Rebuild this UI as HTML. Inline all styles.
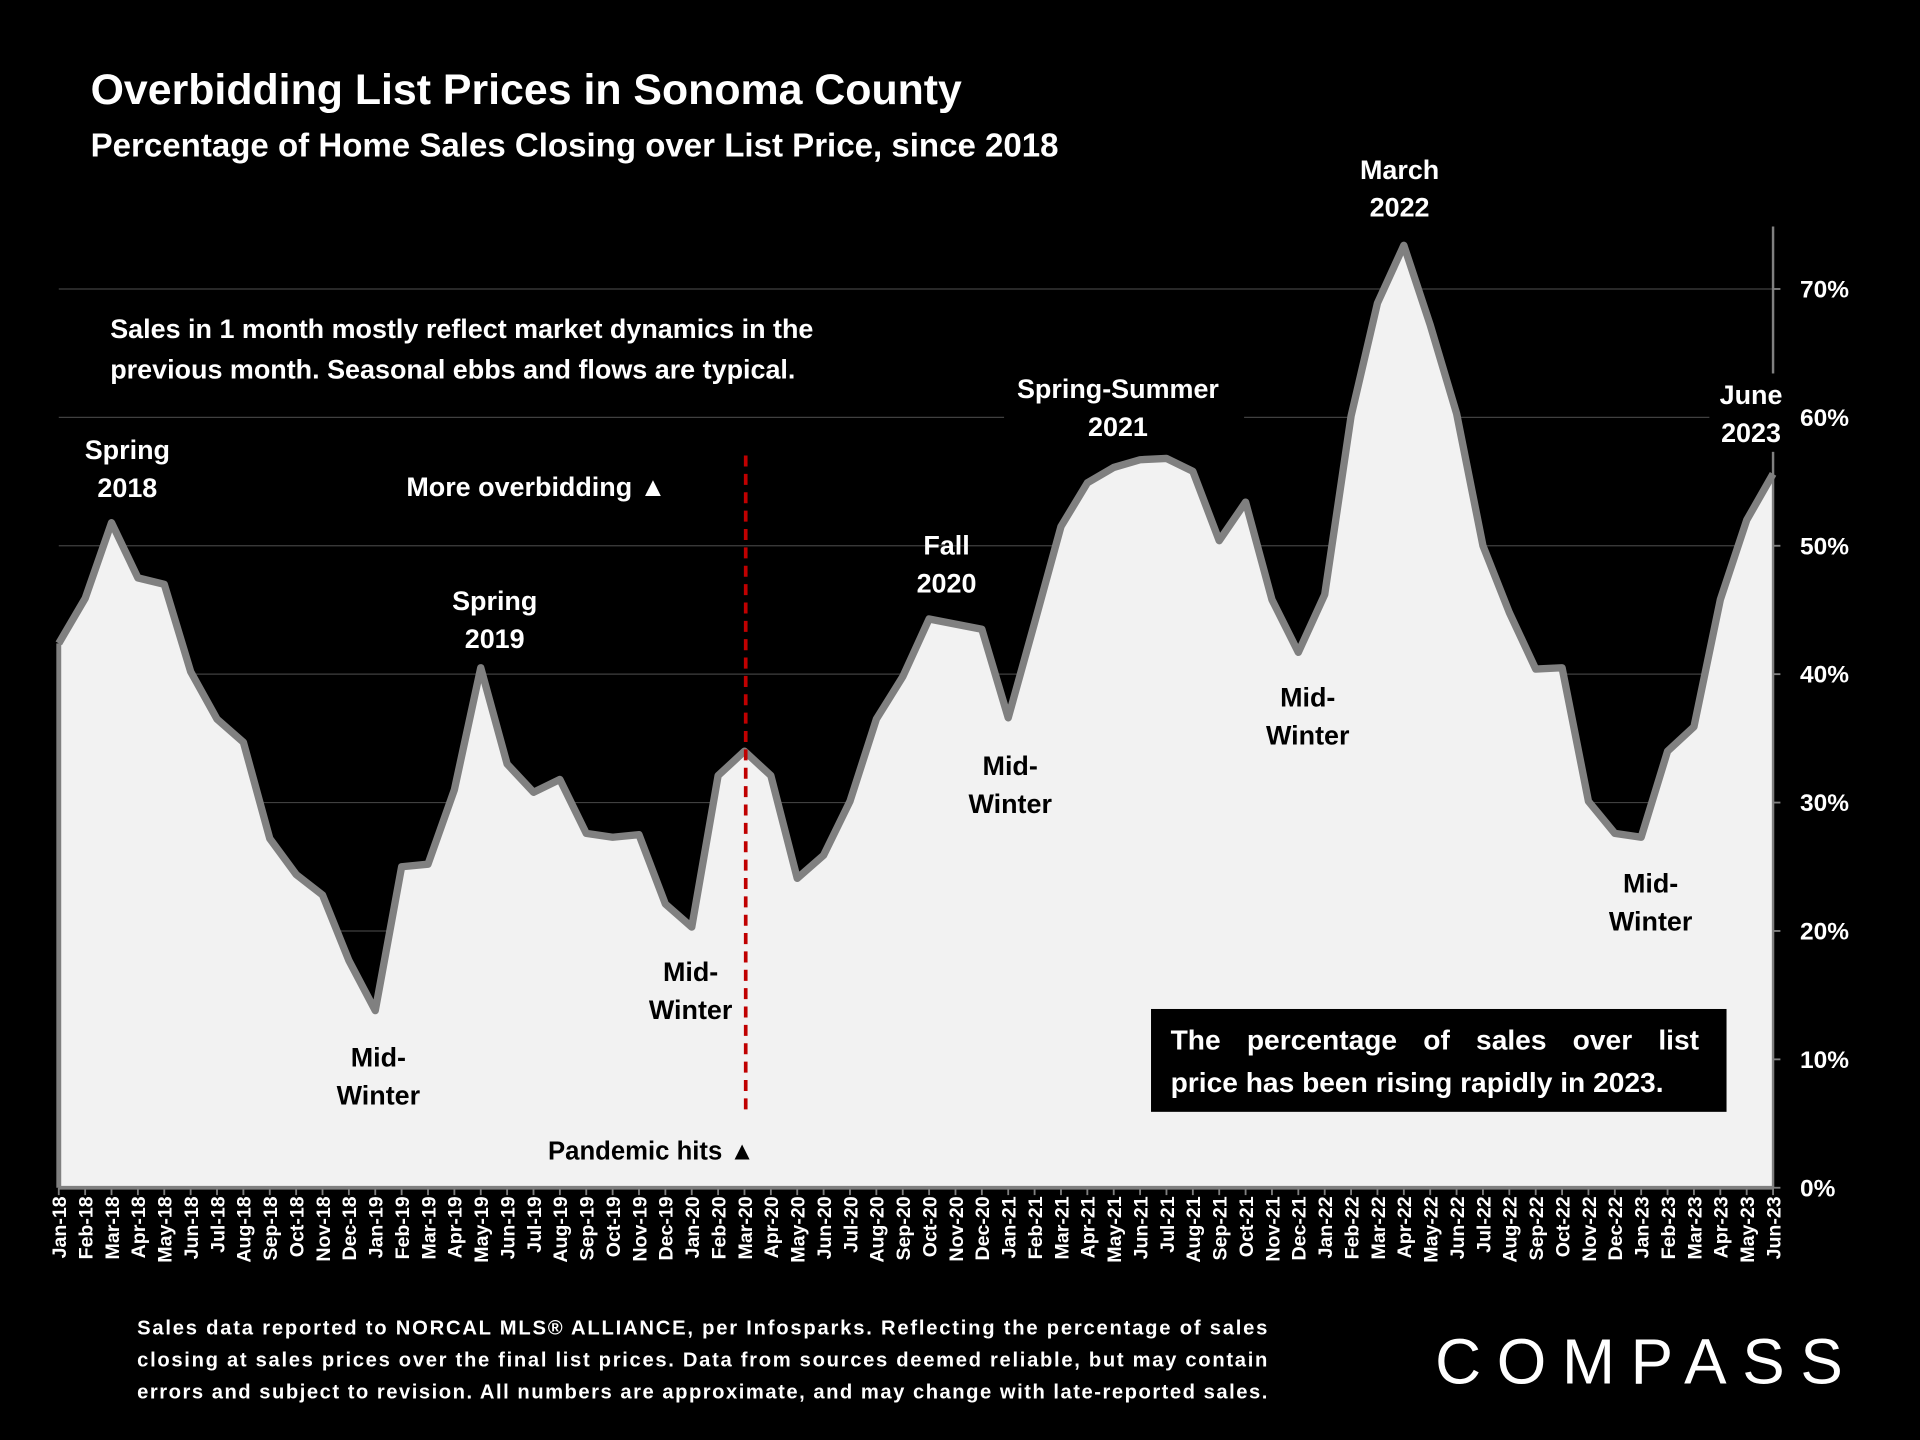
<!DOCTYPE html>
<html><head><meta charset="utf-8">
<style>
html,body{margin:0;padding:0;background:#000;}
svg{display:block;}
text{font-family:"Liberation Sans",sans-serif;font-weight:bold;}
</style></head>
<body>
<svg id="chart" width="1920" height="1440" viewBox="0 0 1568 1176" xmlns="http://www.w3.org/2000/svg">
<rect x="0" y="0" width="1568" height="1176" fill="#000"/>
<g id="grid"></g>
<g id="area"></g>
<g id="axes"></g>
<text x="74" y="85" fill="#fff" font-size="35">Overbidding List Prices in Sonoma County</text>
<text x="74" y="128" fill="#fff" font-size="27">Percentage of Home Sales Closing over List Price, since 2018</text>
<rect x="80" y="248" width="730" height="72" fill="#000"/>
<text x="90" y="276" fill="#fff" font-size="22">Sales in 1 month mostly reflect market dynamics in the</text>
<text x="90" y="309" fill="#fff" font-size="22">previous month. Seasonal ebbs and flows are typical.</text>
<g fill="#fff" font-size="22" text-anchor="middle">
<text x="104" y="375">Spring</text><text x="104" y="406">2018</text>
<text x="404" y="498">Spring</text><text x="404" y="529">2019</text>
<text x="773" y="453">Fall</text><text x="773" y="484">2020</text>
<rect x="820" y="300" width="196" height="64" fill="#000"/>
<text x="913" y="325">Spring-Summer</text><text x="913" y="356">2021</text>
<text x="1143" y="146">March</text><text x="1143" y="177">2022</text>
<rect x="1396" y="305" width="66" height="64" fill="#000"/>
<text x="1430" y="330">June</text><text x="1430" y="361">2023</text>
<text x="438" y="405">More overbidding ▲</text>
<text fill="#000" x="309" y="871">Mid-</text><text fill="#000" x="309" y="902">Winter</text>
<text fill="#000" x="564" y="801">Mid-</text><text fill="#000" x="564" y="832">Winter</text>
<text fill="#000" x="825" y="633">Mid-</text><text fill="#000" x="825" y="664">Winter</text>
<text fill="#000" x="1068" y="577">Mid-</text><text fill="#000" x="1068" y="608">Winter</text>
<text fill="#000" x="1348" y="729">Mid-</text><text fill="#000" x="1348" y="760">Winter</text>
<text fill="#000" x="532" y="947" font-size="21">Pandemic hits ▲</text>
</g>
<line x1="609" y1="372" x2="609" y2="908" stroke="#c00000" stroke-width="3" stroke-dasharray="9,6"/>
<rect x="940" y="824" width="470" height="84" fill="#000"/>
<text x="956" y="857" fill="#fff" font-size="23" word-spacing="15">The percentage of sales over list</text>
<text x="956" y="892" fill="#fff" font-size="23">price has been rising rapidly in 2023.</text>
<g fill="#fff" font-size="16.5">
<text x="112" y="1090" textLength="923" lengthAdjust="spacing">Sales data reported to NORCAL MLS® ALLIANCE, per Infosparks. Reflecting the percentage of sales</text>
<text x="112" y="1116" textLength="923" lengthAdjust="spacing">closing at sales prices over the final list prices. Data from sources deemed reliable, but may contain</text>
<text x="112" y="1142" textLength="923" lengthAdjust="spacing">errors and subject to revision. All numbers are approximate, and may change with late-reported sales.</text>
</g>
<text x="1172" y="1130" fill="#fff" font-size="52" style="font-weight:normal" textLength="333" lengthAdjust="spacing">COMPASS</text>
</svg>
<script>
const months = ["Jan-18","Feb-18","Mar-18","Apr-18","May-18","Jun-18","Jul-18","Aug-18","Sep-18","Oct-18","Nov-18","Dec-18","Jan-19","Feb-19","Mar-19","Apr-19","May-19","Jun-19","Jul-19","Aug-19","Sep-19","Oct-19","Nov-19","Dec-19","Jan-20","Feb-20","Mar-20","Apr-20","May-20","Jun-20","Jul-20","Aug-20","Sep-20","Oct-20","Nov-20","Dec-20","Jan-21","Feb-21","Mar-21","Apr-21","May-21","Jun-21","Jul-21","Aug-21","Sep-21","Oct-21","Nov-21","Dec-21","Jan-22","Feb-22","Mar-22","Apr-22","May-22","Jun-22","Jul-22","Aug-22","Sep-22","Oct-22","Nov-22","Dec-22","Jan-23","Feb-23","Mar-23","Apr-23","May-23","Jun-23"];
const pctOverList = [42.4,45.9,51.8,47.5,47.0,40.2,36.5,34.7,27.2,24.4,22.8,17.7,13.8,25.0,25.2,31.0,40.5,33.0,30.8,31.8,27.6,27.3,27.5,22.1,20.3,32.1,34.0,32.1,24.1,25.9,30.1,36.5,39.8,44.3,43.9,43.5,36.6,44.0,51.5,54.9,56.1,56.7,56.8,55.8,50.4,53.4,45.8,41.7,46.2,60.1,68.9,73.4,67.2,60.3,50.0,44.8,40.4,40.5,30.1,27.6,27.3,34.0,35.9,45.8,52.0,55.6];
const yTicks = [0,10,20,30,40,50,60,70];
const yTickLabels = ["0%","10%","20%","30%","40%","50%","60%","70%"];

const NS="http://www.w3.org/2000/svg";
const X0=48,X1=1448,Y0=970;
const Ypx=236;
const yScale=v=>Y0-(Y0-Ypx)*v/70;
const xScale=i=>X0+(X1-X0)*i/(months.length-1);
function mk(tag,attrs,parent){const e=document.createElementNS(NS,tag);for(const k in attrs)e.setAttribute(k,attrs[k]);parent.appendChild(e);return e;}
const grid=document.getElementById('grid'),area=document.getElementById('area'),axes=document.getElementById('axes');
yTicks.forEach((t,i)=>{
  if(t>0){const l=mk('line',{x1:X0,x2:X1,y1:yScale(t),y2:yScale(t),stroke:'#404040','stroke-width':1},grid);
  
  }
  const tx=mk('text',{x:1470,y:yScale(t)+7,fill:'#fff','font-size':20},axes);
  tx.textContent=yTickLabels[i];
  
  
  const tk=mk('line',{x1:X1,x2:X1+6,y1:yScale(t),y2:yScale(t),stroke:'#808080','stroke-width':1.5},axes);
  
  
});
let pts=pctOverList.map((v,i)=>xScale(i)+','+yScale(v));
const poly=mk('polygon',{points:X0+','+Y0+' '+pts.join(' ')+' '+X1+','+Y0,fill:'#f2f2f2'},area);


const line=mk('polyline',{points:pts.join(' '),fill:'none',stroke:'#808080','stroke-width':6,'stroke-linejoin':'round'},area);


const ya=mk('line',{x1:X1,x2:X1,y1:185,y2:Y0,stroke:'#808080','stroke-width':2},axes);


const xa=mk('line',{x1:X0,x2:X1,y1:Y0,y2:Y0,stroke:'#808080','stroke-width':3},axes);


const el=mk('line',{x1:X0,x2:X0,y1:yScale(pctOverList[0]),y2:Y0,stroke:'#808080','stroke-width':4},axes);


months.forEach((m,i)=>{
  const x=xScale(i);
  const tk=mk('line',{x1:x,x2:x,y1:Y0,y2:Y0+6,stroke:'#808080','stroke-width':1.5},axes);
  
  
  const t=mk('text',{x:0,y:0,fill:'#fff','font-size':16,'text-anchor':'end',transform:'translate('+(x+6)+','+(Y0+7)+') rotate(-90)'},axes);
  t.textContent=m;
  
  
});
</script>
</body></html>
